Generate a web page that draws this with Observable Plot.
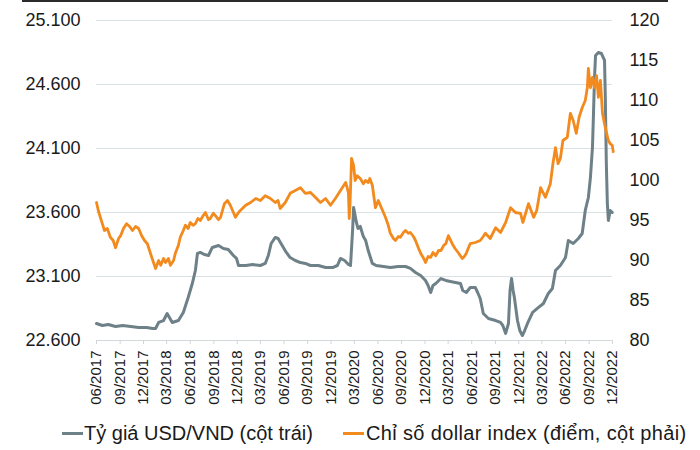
<!DOCTYPE html>
<html>
<head>
<meta charset="utf-8">
<script src="https://cdn.jsdelivr.net/npm/d3@7"></script>
<script src="https://cdn.jsdelivr.net/npm/@observablehq/plot@0.6"></script>
<style>
  html, body { margin: 0; padding: 0; background: #ffffff; }
  body { font-family: "Liberation Sans", Arial, sans-serif; color: #1a1a1a; }
  #wrap { position: relative; width: 700px; height: 450px; overflow: hidden; }
  #topline { position: absolute; left: 22px; top: 0; width: 646px; height: 2px; background: #2b2b2b; }
  #legend { position: absolute; left: 0; top: 421px; width: 700px; height: 24px; font-size: 20px; line-height: 24px; white-space: nowrap; }
  #legend .sw { position: absolute; top: 11px; height: 3px; }
  #legend .tx { position: absolute; top: 0; }
</style>
</head>
<body>
<div id="wrap">
  <div id="chart"></div>
  <div id="topline"></div>
  <div id="legend"></div>
</div>
<script>
// ---- Data ----
const seriesNames = ["Tỷ giá USD/VND (cột trái)", "Chỉ số dollar index (điểm, cột phải)"];
const seriesColors = ["#6e8088", "#f28a1e"];

const leftTicks = [22600, 23100, 23600, 24100, 24600, 25100];
const rightTicks = [80, 85, 90, 95, 100, 105, 110, 115, 120];
const xTickLabels = ["06/2017","09/2017","12/2017","03/2018","06/2018","09/2018","12/2018","03/2019","06/2019","09/2019","12/2019","03/2020","06/2020","09/2020","12/2020","03/2021","06/2021","09/2021","12/2021","03/2022","06/2022","09/2022","12/2022"];

// USD/VND (left axis)
const usdDates = [
  "2017-06-01","2017-06-24","2017-07-17","2017-08-14","2017-09-11","2017-10-12","2017-11-12","2017-12-13","2018-01-06","2018-01-17",
  "2018-01-29","2018-02-17","2018-03-03","2018-03-23","2018-04-16","2018-05-05","2018-05-24","2018-06-09","2018-06-21","2018-06-29",
  "2018-07-10","2018-07-26","2018-08-11","2018-08-26","2018-09-19","2018-10-08","2018-10-27","2018-11-16","2018-11-28","2018-12-06",
  "2019-01-03","2019-01-30","2019-03-01","2019-03-20","2019-04-01","2019-04-12","2019-04-28","2019-05-09","2019-05-25","2019-06-10",
  "2019-06-25","2019-07-15","2019-08-04","2019-08-23","2019-09-12","2019-10-13","2019-11-10","2019-12-07","2019-12-26","2020-01-07",
  "2020-01-23","2020-02-07","2020-02-15","2020-02-23","2020-02-27","2020-03-09","2020-03-15","2020-03-24","2020-04-05","2020-04-14",
  "2020-04-24","2020-04-30","2020-05-10","2020-05-25","2020-06-22","2020-07-19","2020-08-19","2020-09-16","2020-10-05","2020-10-25",
  "2020-11-14","2020-12-03","2020-12-13","2020-12-23","2021-01-01","2021-01-12","2021-02-01","2021-02-20","2021-03-10","2021-03-29",
  "2021-04-18","2021-04-27","2021-05-11","2021-05-26","2021-06-15","2021-06-24","2021-07-04","2021-07-16","2021-08-05","2021-09-02",
  "2021-09-21","2021-09-30","2021-10-11","2021-10-22","2021-10-28","2021-11-03","2021-11-09","2021-11-14","2021-11-26","2021-12-05",
  "2021-12-15","2021-12-24","2022-01-04","2022-01-24","2022-02-16","2022-03-07","2022-03-26","2022-04-11","2022-04-23","2022-05-12",
  "2022-06-01","2022-06-12","2022-07-01","2022-07-21","2022-08-05","2022-08-17","2022-08-29","2022-09-06","2022-09-14","2022-09-18",
  "2022-09-22","2022-09-26","2022-10-07","2022-10-19","2022-10-31","2022-11-03","2022-11-07","2022-11-11","2022-11-15","2022-11-22",
  "2022-11-30"
];
const usdValues = [
  22733,22717,22725,22709,22717,22709,22702,22702,22694,22694,
  22741,22756,22811,22741,22756,22819,22936,23045,23147,23280,
  23288,23272,23264,23327,23342,23319,23311,23264,23241,23186,
  23186,23194,23186,23202,23264,23358,23405,23397,23342,23288,
  23248,23225,23209,23202,23186,23186,23170,23170,23186,23241,
  23225,23194,23186,23459,23639,23522,23475,23491,23412,23381,
  23303,23264,23202,23186,23178,23170,23178,23178,23163,23131,
  23108,23069,23030,22975,23030,23045,23084,23069,23061,23053,
  23045,22991,22975,23014,23014,22975,22928,22811,22772,22756,
  22741,22717,22655,22733,22991,23084,22991,22936,22756,22678,
  22639,22678,22733,22819,22858,22889,22967,23006,23147,23186,
  23248,23381,23358,23397,23436,23616,23717,23873,24108,24373,
  24655,24827,24850,24842,24788,24498,23983,23670,23538,23616,
  23600
];

// Dollar index (right axis)
const dxyDates = [
  "2017-06-01","2017-06-08","2017-06-16","2017-07-02","2017-07-13","2017-07-25","2017-08-05","2017-08-14","2017-08-26","2017-09-03",
  "2017-09-14","2017-09-26","2017-10-08","2017-10-19","2017-10-31","2017-11-12","2017-11-24","2017-12-05","2017-12-16","2017-12-28",
  "2018-01-09","2018-01-17","2018-01-29","2018-02-06","2018-02-17","2018-02-25","2018-03-08","2018-03-16","2018-03-28","2018-04-04",
  "2018-04-16","2018-04-23","2018-05-05","2018-05-13","2018-05-24","2018-06-01","2018-06-12","2018-06-21","2018-07-01","2018-07-10",
  "2018-07-21","2018-07-30","2018-08-11","2018-08-18","2018-08-30","2018-09-07","2018-09-19","2018-09-27","2018-10-12","2018-10-24",
  "2018-11-04","2018-11-16","2018-11-24","2018-12-06","2018-12-13","2019-01-03","2019-01-22","2019-02-11","2019-03-01","2019-03-20",
  "2019-04-09","2019-04-28","2019-05-09","2019-05-17","2019-06-06","2019-06-25","2019-07-15","2019-08-04","2019-08-23","2019-09-12",
  "2019-10-01","2019-10-21","2019-11-10","2019-11-29","2019-12-18","2020-01-07","2020-01-27","2020-02-02","2020-02-07","2020-02-10",
  "2020-02-13","2020-02-19","2020-02-27","2020-03-04","2020-03-12","2020-03-24","2020-04-05","2020-04-13","2020-04-24","2020-04-30",
  "2020-05-10","2020-05-22","2020-06-02","2020-06-10","2020-06-22","2020-06-30","2020-07-11","2020-07-19","2020-07-31","2020-08-08",
  "2020-08-19","2020-08-27","2020-09-08","2020-09-16","2020-09-27","2020-10-05","2020-10-17","2020-10-25","2020-11-05","2020-11-14",
  "2020-11-26","2020-12-03","2020-12-13","2020-12-23","2021-01-01","2021-01-12","2021-01-23","2021-02-01","2021-02-12","2021-02-20",
  "2021-03-02","2021-03-17","2021-03-28","2021-04-09","2021-04-25","2021-05-03","2021-05-11","2021-05-18","2021-05-26","2021-06-15",
  "2021-07-04","2021-07-16","2021-07-24","2021-08-12","2021-09-02","2021-09-21","2021-10-11","2021-10-30","2021-11-18","2021-12-08",
  "2021-12-17","2022-01-08","2022-01-28","2022-02-09","2022-02-24","2022-03-15","2022-04-03","2022-04-13","2022-04-23","2022-05-03",
  "2022-05-12","2022-05-22","2022-06-08","2022-06-20","2022-07-01","2022-07-13","2022-07-24","2022-08-05","2022-08-17","2022-08-25",
  "2022-08-29","2022-09-06","2022-09-14","2022-09-22","2022-09-30","2022-10-07","2022-10-15","2022-10-23","2022-11-03","2022-11-15",
  "2022-11-22","2022-11-30","2022-12-04"
];
const dxyValues = [
  97.25,96.25,95.4,93.75,94.0,92.9,92.5,91.6,92.75,93.1,
  94.0,94.6,94.25,93.75,94.25,94.0,93.1,92.5,92.1,90.9,
  89.75,89.0,90.0,89.4,90.25,89.75,90.25,89.4,90.0,90.9,
  91.9,92.9,93.75,94.4,94.0,94.75,94.4,94.6,95.25,95.0,
  95.6,96.0,95.1,95.25,95.9,95.6,95.1,95.4,97.1,97.5,
  96.9,96.0,95.4,96.0,96.25,96.9,97.25,97.75,97.5,98.1,
  97.75,97.25,97.5,96.5,97.25,98.4,98.75,99.1,98.4,98.5,
  97.9,97.25,97.75,96.9,97.75,98.75,99.75,99.1,98.4,95.25,
  96.9,102.75,101.9,100.0,100.6,100.25,99.6,100.0,99.75,100.25,
  99.4,96.6,97.5,96.9,96.0,95.4,94.4,93.4,92.75,92.5,
  93.0,92.9,93.5,93.75,93.4,93.5,93.0,92.5,91.6,90.9,
  90.25,89.75,90.5,90.4,91.0,90.6,91.25,91.25,91.9,92.1,
  93.1,92.1,91.5,91.0,90.25,90.5,90.9,91.5,92.1,92.25,
  92.5,93.0,93.4,92.75,94.1,93.5,94.75,96.6,96.0,95.9,
  94.75,97.1,95.4,96.25,99.1,97.9,99.6,102.1,104.1,102.1,
  102.75,105.0,105.4,108.4,107.5,105.9,107.9,109.1,110.0,111.6,
  114.0,111.6,112.9,111.6,113.1,110.4,112.5,108.4,106.6,105.0,
  104.6,104.4,103.6
];

// ---- Build chart ----
const L0 = 22600, L1 = 25100, R0 = 80, R1 = 120;
const toLeft = v => L0 + (v - R0) * (L1 - L0) / (R1 - R0);
const fromLeft = v => R0 + (v - L0) * (R1 - R0) / (L1 - L0);

const usd = usdDates.map((d, i) => ({date: new Date(d), value: usdValues[i]}));
const dxy = dxyDates.map((d, i) => ({date: new Date(d), value: toLeft(dxyValues[i])}));
const xTicks = xTickLabels.map(s => { const [m, y] = s.split("/"); return new Date(Date.UTC(+y, +m - 1, 1)); });

const fmtLeft = d => d3.format(",")(d).replace(/,/g, ".");

const chart = Plot.plot({
  width: 700,
  height: 415,
  marginTop: 20,
  marginBottom: 75,
  marginLeft: 96,
  marginRight: 88,
  style: {fontFamily: '"Liberation Sans", Arial, sans-serif', fontSize: "18px", color: "#1a1a1a", background: "#ffffff", overflow: "visible"},
  x: {type: "utc", domain: [xTicks[0], xTicks[xTicks.length - 1]]},
  y: {domain: [L0, L1]},
  marks: [
    Plot.gridY(leftTicks.slice(1), {stroke: "#dbe2e5", strokeOpacity: 1, strokeWidth: 1}),
    Plot.ruleY([L0], {stroke: "#d4d9dc", strokeWidth: 1}),
    Plot.axisX(xTicks, {
      tickFormat: d3.utcFormat("%m/%Y"),
      tickRotate: -90, tickSize: 4, tickPadding: 6,
      fontSize: 15, stroke: "#cfd5d8", fill: "#1a1a1a", label: null
    }),
    Plot.axisY(leftTicks, {anchor: "left", tickSize: 0, tickPadding: 16, tickFormat: fmtLeft, fontSize: 18, fill: "#1a1a1a", label: null}),
    Plot.axisY(rightTicks.map(toLeft), {anchor: "right", tickSize: 0, tickPadding: 17, tickFormat: d => String(Math.round(fromLeft(d))), fontSize: 18, fill: "#1a1a1a", label: null}),
    Plot.lineY(usd, {x: "date", y: "value", stroke: seriesColors[0], strokeWidth: 3, strokeLinejoin: "round"}),
    Plot.lineY(dxy, {x: "date", y: "value", stroke: seriesColors[1], strokeWidth: 2.8, strokeLinejoin: "round"})
  ]
});
document.getElementById("chart").appendChild(chart);

// ---- Legend ----
const legend = document.getElementById("legend");
const legendLayout = [{sw: 62, tx: 84, ls: 0}, {sw: 343, tx: 366, ls: 0.35}];
seriesNames.forEach((name, i) => {
  const sw = document.createElement("span");
  sw.className = "sw";
  sw.style.left = legendLayout[i].sw + "px";
  sw.style.width = "21px";
  sw.style.background = seriesColors[i];
  legend.appendChild(sw);
  const tx = document.createElement("span");
  tx.className = "tx";
  tx.style.left = legendLayout[i].tx + "px";
  tx.style.letterSpacing = legendLayout[i].ls + "px";
  tx.textContent = name;
  legend.appendChild(tx);
});
</script>
</body>
</html>
